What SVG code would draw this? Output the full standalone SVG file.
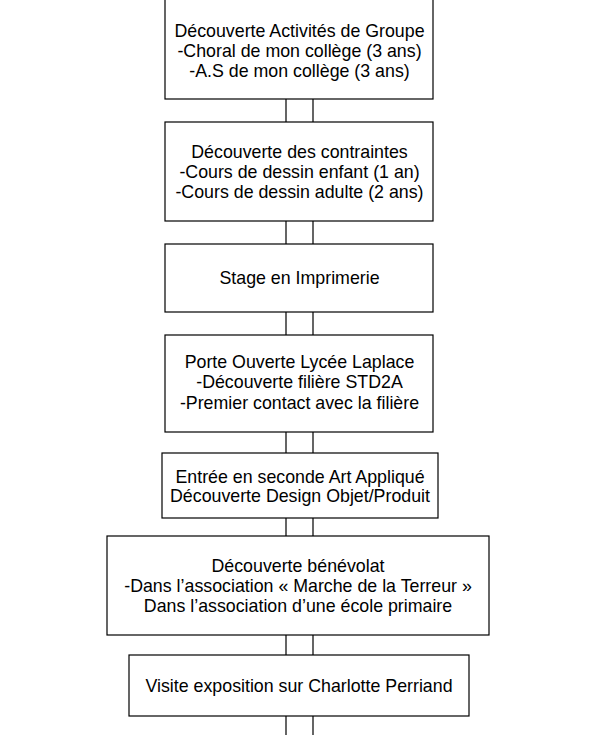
<svg xmlns="http://www.w3.org/2000/svg" width="595" height="735" viewBox="0 0 595 735">
<style>
.box{fill:#ffffff;stroke:#000000;stroke-width:1.2}
.t{font-family:"Liberation Sans",Arial,sans-serif;font-size:17.8px;fill:#000000;text-anchor:middle}
.c{stroke:#000000;stroke-width:1.2;fill:none}
</style>
<rect width="595" height="735" fill="#ffffff"/>
<g id="connectors">
<path class="c" d="M286 99V122M313 99V122"/>
<path class="c" d="M286 221V244M313 221V244"/>
<path class="c" d="M286 312V335M313 312V335"/>
<path class="c" d="M286 432V453M313 432V453"/>
<path class="c" d="M286 518V536M313 518V536"/>
<path class="c" d="M286 635V655M313 635V655"/>
<path class="c" d="M286 716V735M313 716V735"/>
</g>
<g id="n1">
<rect class="box" x="165" y="-1" width="268" height="100"/>
<text class="t" x="299.5" y="37">Découverte Activités de Groupe</text>
<text class="t" x="299.5" y="57">-Choral de mon collège (3 ans)</text>
<text class="t" x="299.5" y="77">-A.S de mon collège (3 ans)</text>
</g>
<g id="n2">
<rect class="box" x="165" y="122" width="268" height="99"/>
<text class="t" x="299.5" y="158">Découverte des contraintes</text>
<text class="t" x="299.5" y="178">-Cours de dessin enfant (1 an)</text>
<text class="t" x="299.5" y="198">-Cours de dessin adulte (2 ans)</text>
</g>
<g id="n3">
<rect class="box" x="165" y="244" width="268" height="68"/>
<text class="t" x="299.5" y="284">Stage en Imprimerie</text>
</g>
<g id="n4">
<rect class="box" x="165" y="335" width="268" height="97"/>
<text class="t" x="299.5" y="368">Porte Ouverte Lycée Laplace</text>
<text class="t" x="299.5" y="388">-Découverte filière STD2A</text>
<text class="t" x="299.5" y="409">-Premier contact avec la filière</text>
</g>
<g id="n5">
<rect class="box" x="162" y="453" width="276" height="65"/>
<text class="t" x="300" y="483">Entrée en seconde Art Appliqué</text>
<text class="t" x="300" y="502">Découverte Design Objet/Produit</text>
</g>
<g id="n6">
<rect class="box" x="107" y="536" width="382" height="99"/>
<text class="t" x="298" y="572">Découverte bénévolat</text>
<text class="t" x="298" y="592">-Dans l’association « Marche de la Terreur »</text>
<text class="t" x="298" y="612">Dans l’association d’une école primaire</text>
</g>
<g id="n7">
<rect class="box" x="129" y="655" width="340" height="61"/>
<text class="t" x="299" y="692">Visite exposition sur Charlotte Perriand</text>
</g>
</svg>
